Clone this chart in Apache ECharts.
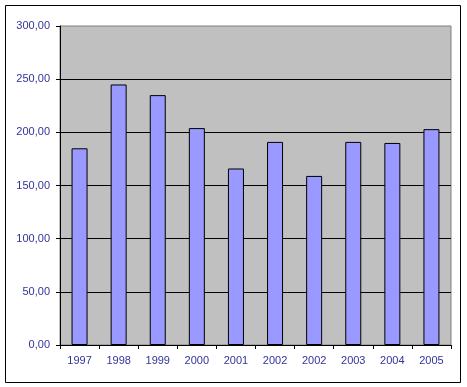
<!DOCTYPE html>
<html><head><meta charset="utf-8">
<script src="https://cdn.jsdelivr.net/npm/echarts@6/dist/echarts.min.js"></script>
<style>html,body{margin:0;padding:0;background:#fff}#c{width:467px;height:387px}</style>
</head><body><div id="c"></div>
<script>
const categories = ['1997','1998','1999','2000','2001','2002','2002','2003','2004','2005'];
const values = [185, 245, 235, 204, 166, 191, 159, 191, 190, 203];
const yTicks = {min: 0, max: 300, interval: 50};

const chart = echarts.init(document.getElementById('c'), null, {renderer: 'canvas'});
const labelColor = '#333399';
chart.setOption({
  animation: false,
  backgroundColor: '#fff',
  graphic: [{
    type: 'rect', shape: {x: 5.5, y: 5.5, width: 455, height: 377},
    style: {fill: 'none', stroke: '#000', lineWidth: 1}, z: 100
  }],
  grid: {left: 60, right: 16, top: 26, bottom: 42, show: true,
         backgroundColor: '#C0C0C0', borderColor: '#808080', borderWidth: 1},
  xAxis: {
    type: 'category', data: categories,
    axisLine: {show: true, lineStyle: {color: '#000', width: 1}},
    axisTick: {show: true, length: 4, alignWithLabel: false, lineStyle: {color: '#000'}},
    axisLabel: {color: labelColor, fontFamily: 'Liberation Sans', fontSize: 11, margin: 10, interval: 0},
    splitLine: {show: false}
  },
  yAxis: {
    type: 'value', min: yTicks.min, max: yTicks.max, interval: yTicks.interval,
    axisLine: {show: true, lineStyle: {color: '#000', width: 1}},
    axisTick: {show: true, length: 4, lineStyle: {color: '#000'}},
    axisLabel: {color: labelColor, fontFamily: 'Liberation Sans', fontSize: 11, margin: 10,
      formatter: v => v.toFixed(2).replace('.', ',')},
    splitLine: {show: true, showMaxLine: false, lineStyle: {color: '#000', width: 1}}
  },
  series: [{
    type: 'bar', data: values, barWidth: 16,
    itemStyle: {color: '#9999FF', borderColor: '#000', borderWidth: 1}
  }]
});
</script></body></html>
